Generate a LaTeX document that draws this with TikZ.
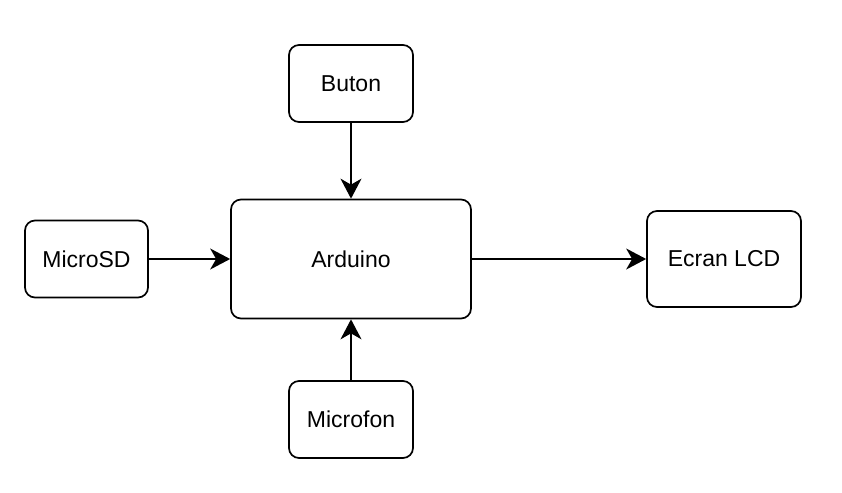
\documentclass[tikz,border=0pt]{standalone}
\usepackage{fontspec}
\setmainfont{Liberation Sans}
\usetikzlibrary{arrows.meta}
\begin{document}
\begin{tikzpicture}[x=1pt,y=-1pt,
  blk/.style={draw=black, line width=1.7pt, rounded corners=10pt, fill=white, inner sep=0pt, font=\fontsize{23}{28}\selectfont},
  conn/.style={line width=1.7pt, -{Stealth[length=20pt,width=21pt,inset=6pt]}}]
\useasboundingbox[fill=white] (0,0) rectangle (842,492);
\node[blk, minimum width=124pt, minimum height=77pt] (buton) at (351,83.5) {Buton};
\node[blk, minimum width=240pt, minimum height=119pt] (ard) at (351,259) {Arduino};
\node[blk, minimum width=123pt, minimum height=77pt] (sd) at (86.5,259) {MicroSD};
\node[blk, minimum width=154pt, minimum height=96pt] (lcd) at (724,259) {Ecran LCD};
\node[blk, minimum width=124pt, minimum height=77pt] (mic) at (351,419.5) {Microfon};
\draw[conn] (buton.south) -- (ard.north);
\draw[conn] (sd.east) -- (ard.west);
\draw[conn] (ard.east) -- (lcd.west);
\draw[conn] (mic.north) -- (ard.south);
\end{tikzpicture}
\end{document}
